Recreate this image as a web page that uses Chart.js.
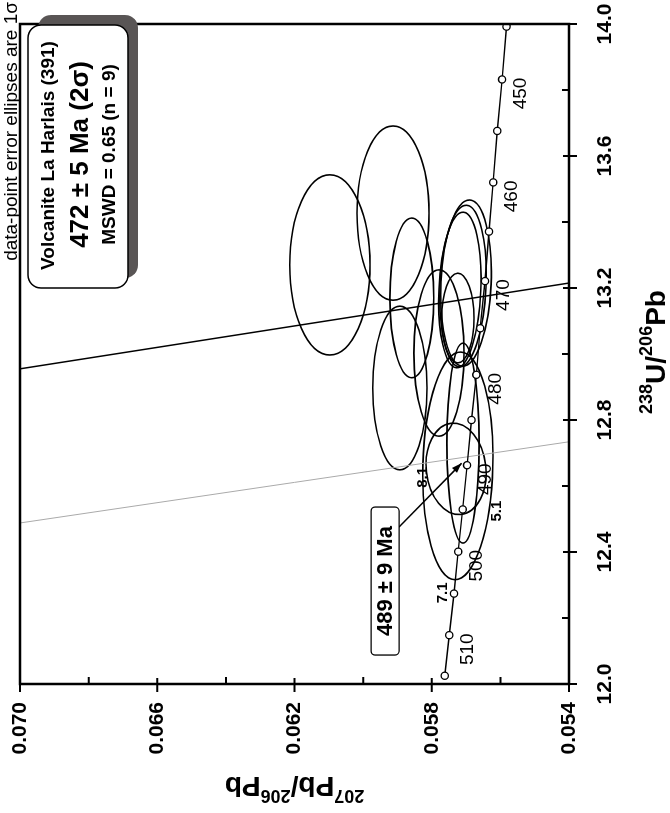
<!DOCTYPE html>
<html>
<head>
<meta charset="utf-8">
<title>Tera-Wasserburg - Volcanite La Harlais</title>
<script src="https://cdn.jsdelivr.net/npm/chart.js@4.4.1/dist/chart.umd.min.js"></script>
<style>
  html, body { margin: 0; padding: 0; background: #fff; overflow: hidden; }
  /* chart is drawn upright and turned a quarter turn, as in the figure */
  #wrap {
    position: absolute; left: 0; top: 0;
    width: 813px; height: 670px;
    transform-origin: 0 0;
    transform: translate(0, 813px) rotate(-90deg);
  }
</style>
</head>
<body>
<div id="wrap"><canvas id="tw-chart" width="813" height="670"></canvas></div>
<script>
// Concordia curve (ages in Ma)
const concordiaAges = [445, 450, 455, 460, 465, 470, 475, 480, 485, 490, 495, 500, 505, 510, 515];
const concordiaU238 = [13.992, 13.832, 13.676, 13.520, 13.371, 13.221, 13.078, 12.937, 12.800, 12.663, 12.529, 12.401, 12.274, 12.148, 12.025];
const concordiaPb207 = [0.05582, 0.05595, 0.05609, 0.05621, 0.05633, 0.05645, 0.05659, 0.05670, 0.05684, 0.05697, 0.05710, 0.05723, 0.05735, 0.05749, 0.05762];
const labelledAges = [450, 460, 470, 480, 490, 500, 510];

// Data-point error ellipses (centre, 1 sigma, tilt in degrees)
const ellipseU238 = [13.270, 13.427, 13.170, 13.215, 13.206, 13.194, 13.003, 13.109, 12.897, 12.652, 12.661, 12.730];
const ellipsePb207 = [0.06097, 0.05913, 0.05858, 0.05700, 0.05709, 0.05718, 0.05779, 0.05724, 0.05893, 0.05729, 0.05724, 0.05709];
const ellipseErrU238 = [0.273, 0.264, 0.242, 0.252, 0.245, 0.236, 0.252, 0.136, 0.248, 0.139, 0.345, 0.303];
const ellipseErrPb207 = [0.00117, 0.00105, 0.00064, 0.00073, 0.00067, 0.00061, 0.00073, 0.00047, 0.00079, 0.00087, 0.00102, 0.00047];
const ellipseTilt = [0, 0, 0, 2.5, 2.5, 2.5, 0, 0, 0, -6, 1.5, 0];

// Spot names written next to some ellipses
const spotNames = ['8.1', '7.1', '5.1'];
const spotU238 = [12.626, 12.276, 12.524];
const spotPb207 = [0.05827, 0.05769, 0.05610];

// Straight lines
const blackLineU238 = [12.955, 13.215];
const blackLinePb207 = [0.070, 0.054];
const greyLineU238 = [12.488, 12.734];
const greyLinePb207 = [0.070, 0.054];

// Axes
const xMin = 12.0, xMax = 14.0, xStep = 0.4;
const yMin = 0.054, yMax = 0.070, yStep = 0.004;

// Annotations
const noteText = 'data-point error ellipses are 1\u03c3';
const boxLines = ['Volcanite La Harlais (391)', '472 \u00b1 5 Ma (2\u03c3)', 'MSWD = 0.65 (n = 9)'];
const ageBoxText = '489 \u00b1 9 Ma';
const ageBoxU238 = 12.312, ageBoxPb207 = 0.05936;
const arrowU238 = 12.669, arrowPb207 = 0.05713;

const FONT = '"Liberation Sans", Arial, Helvetica, sans-serif';
Chart.defaults.font.family = FONT;
Chart.defaults.color = '#000';

function toPoints(xs, ys) {
  return xs.map((v, i) => ({ x: v, y: ys[i] }));
}

function roundRect(ctx, x, y, w, h, r) {
  ctx.beginPath();
  ctx.moveTo(x + r, y);
  ctx.lineTo(x + w - r, y);
  ctx.arcTo(x + w, y, x + w, y + r, r);
  ctx.lineTo(x + w, y + h - r);
  ctx.arcTo(x + w, y + h, x + w - r, y + h, r);
  ctx.lineTo(x + r, y + h);
  ctx.arcTo(x, y + h, x, y + h - r, r);
  ctx.lineTo(x, y + r);
  ctx.arcTo(x, y, x + r, y, r);
  ctx.closePath();
}

// text with isotope superscripts, centred on x
function drawIsotopeText(ctx, parts, x, y) {
  const big = 'bold 28px ' + FONT, small = 'bold 18px ' + FONT;
  let total = 0;
  parts.forEach(p => { ctx.font = p[1] ? small : big; total += ctx.measureText(p[0]).width; });
  let cx = x - total / 2;
  ctx.textAlign = 'left';
  ctx.textBaseline = 'alphabetic';
  parts.forEach(p => {
    ctx.font = p[1] ? small : big;
    ctx.fillText(p[0], cx, p[1] ? y - 13 : y);
    cx += ctx.measureText(p[0]).width;
  });
}

// keep the plot frame where the figure has it: no extra room for label overhang
function fixScale(size, key) {
  return s => {
    s[key] = size;
    s.paddingLeft = 0; s.paddingRight = 0; s.paddingTop = 0; s.paddingBottom = 0;
  };
}

const ellipsePlugin = {
  id: 'errorEllipses',
  beforeDatasetsDraw(chart) {
    const { ctx, chartArea, scales: { x, y } } = chart;
    ctx.save();
    ctx.beginPath();
    ctx.rect(chartArea.left, chartArea.top, chartArea.width, chartArea.height);
    ctx.clip();
    ctx.lineWidth = 1.6;
    ctx.strokeStyle = '#000';
    for (let i = 0; i < ellipseU238.length; i++) {
      const cx = x.getPixelForValue(ellipseU238[i]);
      const cy = y.getPixelForValue(ellipsePb207[i]);
      const rx = Math.abs(x.getPixelForValue(ellipseU238[i] + ellipseErrU238[i]) - cx);
      const ry = Math.abs(y.getPixelForValue(ellipsePb207[i] + ellipseErrPb207[i]) - cy);
      ctx.beginPath();
      ctx.ellipse(cx, cy, rx, ry, ellipseTilt[i] * Math.PI / 180, 0, 2 * Math.PI);
      ctx.stroke();
    }
    ctx.restore();
  }
};

const decorPlugin = {
  id: 'decor',
  afterDraw(chart) {
    const { ctx, chartArea: a, scales: { x, y } } = chart;
    ctx.save();

    // age labels on the concordia
    ctx.font = '19px ' + FONT;
    ctx.fillStyle = '#000';
    ctx.textAlign = 'center';
    ctx.textBaseline = 'middle';
    labelledAges.forEach(age => {
      const i = concordiaAges.indexOf(age);
      const px = x.getPixelForValue(concordiaU238[i]);
      const py = y.getPixelForValue(concordiaPb207[i]);
      ctx.fillText(String(age), px - 14, py + 19);
    });

    // spot names
    ctx.font = 'bold 15px ' + FONT;
    spotNames.forEach((s, i) => {
      ctx.fillText(s, x.getPixelForValue(spotU238[i]), y.getPixelForValue(spotPb207[i]));
    });

    // frame
    ctx.strokeStyle = '#000';
    ctx.lineWidth = 2.5;
    ctx.strokeRect(a.left, a.top, a.right - a.left, a.bottom - a.top);

    // ticks: majors cross the axis, minors inside only
    ctx.lineWidth = 2;
    ctx.beginPath();
    x.ticks.forEach((t, k) => {
      const p = x.getPixelForValue(t.value);
      ctx.moveTo(p, a.bottom - 6); ctx.lineTo(p, a.bottom + 8);
      if (k < x.ticks.length - 1) {
        const m = x.getPixelForValue(t.value + xStep / 2);
        ctx.moveTo(m, a.bottom - 7); ctx.lineTo(m, a.bottom);
      }
    });
    y.ticks.forEach((t, k) => {
      const p = y.getPixelForValue(t.value);
      ctx.moveTo(a.left + 6, p); ctx.lineTo(a.left - 8, p);
      if (k < y.ticks.length - 1) {
        const m = y.getPixelForValue(t.value + yStep / 2);
        ctx.moveTo(a.left + 7, m); ctx.lineTo(a.left, m);
      }
    });
    ctx.stroke();

    // axis titles
    ctx.fillStyle = '#000';
    drawIsotopeText(ctx, [['238', true], ['U', false], ['/', false], ['206', true], ['Pb', false]], (a.left + a.right) / 2 + 2, 665);
    ctx.save();
    ctx.translate(36, (a.top + a.bottom) / 2);
    ctx.rotate(-Math.PI / 2);
    drawIsotopeText(ctx, [['207', true], ['Pb', false], ['/', false], ['206', true], ['Pb', false]], 0, 0);
    ctx.restore();

    // note above the frame
    ctx.font = '19px ' + FONT;
    ctx.textAlign = 'right';
    ctx.textBaseline = 'alphabetic';
    ctx.fillText(noteText, 811, 17);

    // result box with shadow
    const bw = 263, bh = 100;
    const bx = a.right - 1 - bw, by = a.top + 8;
    ctx.fillStyle = '#595555';
    roundRect(ctx, bx + 10, by + 10, bw, bh, 13);
    ctx.fill();
    ctx.fillStyle = '#fff';
    roundRect(ctx, bx, by, bw, bh, 13);
    ctx.fill();
    ctx.lineWidth = 1.5;
    ctx.strokeStyle = '#000';
    ctx.stroke();
    ctx.fillStyle = '#000';
    ctx.textAlign = 'center';
    ctx.font = 'bold 19px ' + FONT;
    ctx.fillText(boxLines[0], bx + bw / 2 + 1, by + 26);
    ctx.font = 'bold 26px ' + FONT;
    ctx.fillText(boxLines[1], bx + bw / 2 + 2, by + 60);
    ctx.font = 'bold 19px ' + FONT;
    ctx.fillText(boxLines[2], bx + bw / 2 + 2, by + 87);

    // age box with arrow
    const cx = x.getPixelForValue(ageBoxU238), cy = y.getPixelForValue(ageBoxPb207);
    const w = 148, h = 28;
    const sx = cx + 54, sy = cy + h / 2;
    const tx = x.getPixelForValue(arrowU238), ty = y.getPixelForValue(arrowPb207);
    ctx.lineWidth = 1.5;
    ctx.beginPath();
    ctx.moveTo(sx, sy);
    ctx.lineTo(tx, ty);
    ctx.stroke();
    const ang = Math.atan2(ty - sy, tx - sx);
    ctx.beginPath();
    ctx.moveTo(tx, ty);
    ctx.lineTo(tx - 10 * Math.cos(ang) + 3.5 * Math.sin(ang), ty - 10 * Math.sin(ang) - 3.5 * Math.cos(ang));
    ctx.lineTo(tx - 10 * Math.cos(ang) - 3.5 * Math.sin(ang), ty - 10 * Math.sin(ang) + 3.5 * Math.cos(ang));
    ctx.closePath();
    ctx.fill();
    ctx.fillStyle = '#fff';
    roundRect(ctx, cx - w / 2, cy - h / 2, w, h, 4);
    ctx.fill();
    ctx.lineWidth = 1.3;
    ctx.stroke();
    ctx.fillStyle = '#000';
    ctx.font = 'bold 22px ' + FONT;
    ctx.textBaseline = 'middle';
    ctx.fillText(ageBoxText, cx, cy + 1);

    ctx.restore();
  }
};

const twCtx = document.getElementById('tw-chart').getContext('2d');
const twChart = new Chart(twCtx, {
  type: 'scatter',
  data: {
    datasets: [
      {
        label: 'Concordia',
        data: toPoints(concordiaU238, concordiaPb207),
        showLine: true,
        borderColor: '#000',
        borderWidth: 1.4,
        pointRadius: 3.6,
        pointBorderWidth: 1.3,
        pointBackgroundColor: '#fff',
        pointBorderColor: '#000'
      },
      {
        label: 'line',
        data: toPoints(blackLineU238, blackLinePb207),
        showLine: true,
        borderColor: '#000',
        borderWidth: 1.5,
        pointRadius: 0
      },
      {
        label: 'grey line',
        data: toPoints(greyLineU238, greyLinePb207),
        showLine: true,
        borderColor: '#aaaaaa',
        borderWidth: 1,
        pointRadius: 0
      }
    ]
  },
  options: {
    responsive: false,
    animation: false,
    events: [],
    layout: { padding: { left: 0, right: 24, top: 20, bottom: 0 } },
    scales: {
      x: {
        type: 'linear',
        position: 'bottom',
        min: xMin,
        max: xMax,
        grid: { display: false, drawTicks: false },
        border: { display: false },
        ticks: {
          stepSize: xStep,
          autoSkip: false,
          maxRotation: 0,
          padding: 24,
          color: '#000',
          font: { size: 21, weight: 'bold' },
          callback: v => Number(v).toFixed(1)
        },
        afterFit: fixScale(101, 'height')
      },
      y: {
        type: 'linear',
        position: 'left',
        min: yMin,
        max: yMax,
        grid: { display: false, drawTicks: false },
        border: { display: false },
        ticks: {
          stepSize: yStep,
          autoSkip: false,
          padding: 18,
          color: '#000',
          font: { size: 21, weight: 'bold' },
          callback: v => Number(v).toFixed(3)
        },
        afterFit: fixScale(129, 'width')
      }
    },
    plugins: {
      legend: { display: false },
      tooltip: { enabled: false }
    }
  },
  plugins: [ellipsePlugin, decorPlugin]
});
</script>
</body>
</html>
